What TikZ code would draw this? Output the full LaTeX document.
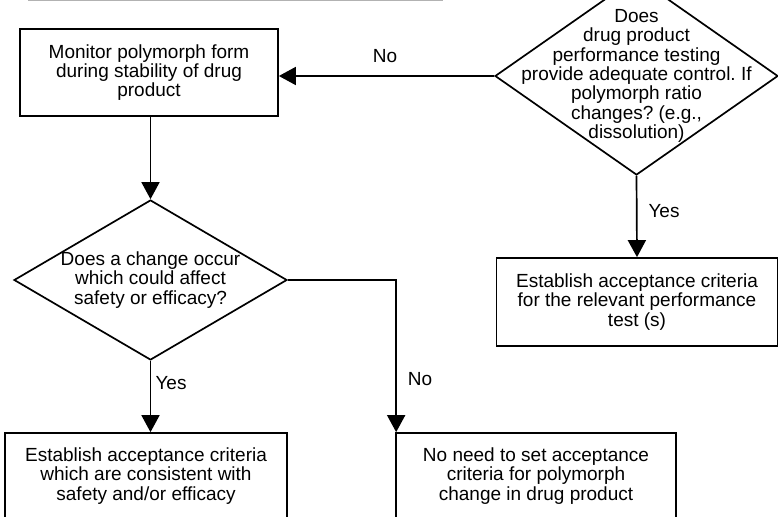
\documentclass[tikz,border=0pt]{standalone}
\usepackage{fontspec}
\setmainfont{Liberation Sans}
\usetikzlibrary{shapes.geometric, arrows.meta, positioning}
\frenchspacing

\begin{document}
\begin{tikzpicture}[x=1pt, y=-1pt, >={Triangle[width=18pt,length=17pt]},
  every node/.style={font=\fontsize{19}{19.3}\selectfont},
  box/.style={draw, line width=1.7pt, align=center, inner sep=0pt},
  decision/.style={draw, diamond, line width=1.7pt, inner sep=0pt},
  link/.style={->, line width=1.7pt}]
  \useasboundingbox (0,0) rectangle (778,516);
  \clip (0,0) rectangle (778,516);
  % rule at the top edge
  \draw[gray!60, line width=1.5pt] (28,0.5) -- (443,0.5);
  % top row
  \node[box, minimum width=258pt, minimum height=87pt] (monitor) at (149,72.5)
    {Monitor polymorph form\\during stability of drug\\product};
  \node[decision, minimum width=283pt, minimum height=198pt,
    label={[align=center, font=\fontsize{19}{19.3}\selectfont]center:{Does\\drug product\\performance testing\\provide adequate control. If\\polymorph ratio\\changes? (e.g.,\\dissolution)}}]
    (perf) at (636.5,76) {};
  \node[box, minimum width=281pt, minimum height=88pt] (perfcrit) at (637,302)
    {Establish acceptance criteria\\for the relevant performance\\test (s)};
  % middle question
  \node[decision, minimum width=273pt, minimum height=160pt,
    label={[align=center, font=\fontsize{19}{19.3}\selectfont]center:{Does a change occur\\which could affect\\safety or efficacy?}}]
    (change) at (150.5,280) {};
  % bottom row
  \node[box, minimum width=282pt, minimum height=86pt] (safety) at (146,476)
    {Establish acceptance criteria\\which are consistent with\\safety and/or efficacy};
  \node[box, minimum width=280pt, minimum height=86pt] (noneed) at (536,476)
    {No need to set acceptance\\criteria for polymorph\\change in drug product};
  % connectors
  \draw[link] (perf.west) -- (perf.west -| monitor.east);
  \node (no1) at (385,56) {No};
  \draw[link] (perf.south) -- (perfcrit.north);
  \node (yes1) at (664,211) {Yes};
  \draw[link] (monitor.south -| change.north) -- (change.north);
  \draw[link] (change.south) -- (change.south |- safety.north);
  \node (yes2) at (171,383) {Yes};
  \draw[link] (change.east) -| ([xshift=1pt]noneed.north west);
  \node (no2) at (420,379) {No};
\end{tikzpicture}
\end{document}
